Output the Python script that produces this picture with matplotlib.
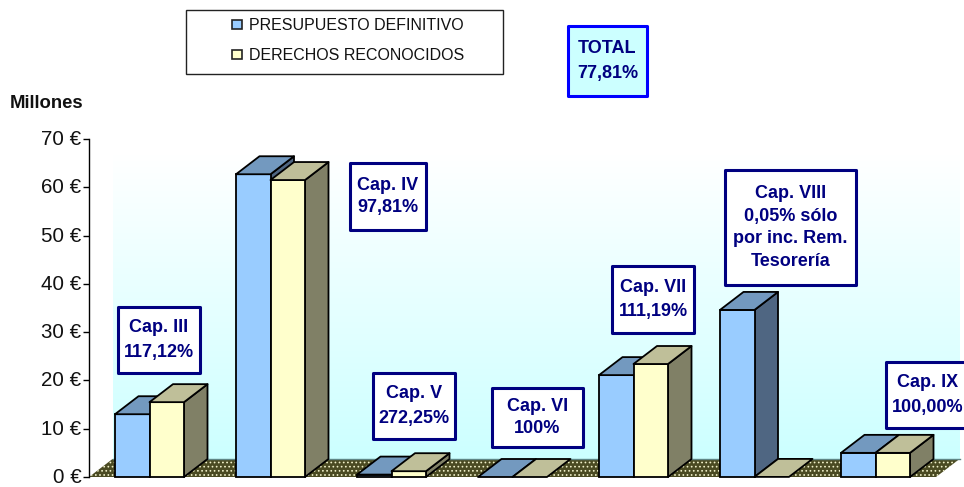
import matplotlib
matplotlib.use('Agg')
import numpy as np
import matplotlib.pyplot as plt
from matplotlib.colors import LinearSegmentedColormap
from matplotlib.patches import Polygon, Rectangle
from matplotlib.transforms import ScaledTranslation

# datos (millones de euros)
capitulos = ['Cap. III', 'Cap. IV', 'Cap. V', 'Cap. VI', 'Cap. VII', 'Cap. VIII', 'Cap. IX']
presupuesto = [13.0, 62.7, 0.5, 0.0, 21.1, 34.6, 5.0]
derechos = [15.5, 61.5, 1.2, 0.0, 23.4, 0.02, 5.0]
yticks = [0, 10, 20, 30, 40, 50, 60, 70]
yticklabels = ['0 €', '10 €', '20 €', '30 €', '40 €', '50 €', '60 €', '70 €']
series_labels = ['PRESUPUESTO DEFINITIVO', 'DERECHOS RECONOCIDOS']

W, H = 964, 487
plt.rcParams['font.family'] = ['Liberation Sans', 'DejaVu Sans']
plt.rcParams['hatch.linewidth'] = 0.7
navy = '#000080'

fig = plt.figure(figsize=(W / 100, H / 100), dpi=100)
ax = fig.add_axes([89 / W, (H - 477) / H, 847 / W, 338 / H])
ax.set_xlim(-0.5, 6.5)
ax.set_ylim(0, 70)

# profundidad del efecto 3D, en unidades de los ejes
dx = 23.5 / 121
dy = 18 / (338 / 70)
bw = 34.5 / 121

# pared del fondo con degradado
cmap = LinearSegmentedColormap.from_list('fondo', [(0, '#FFFFFF'), (0.1, '#FFFFFF'), (1, '#CCFFFF')])
ax.imshow(np.linspace(0, 1, 256).reshape(-1, 1), cmap=cmap, aspect='auto', origin='upper',
          extent=(-0.5 + dx, 6.5 + dx, dy, 70 + dy), clip_on=False, zorder=1)
ax.set_xlim(-0.5, 6.5)
ax.set_ylim(0, 70)

# suelo punteado
suelo = [(-0.5, 0), (6.5, 0), (6.5 + dx, dy), (-0.5 + dx, dy)]
ax.add_patch(Polygon(suelo, closed=True, facecolor='#4A4A22', edgecolor='#F0F0C8', hatch='....',
                     linewidth=0, zorder=2, clip_on=False))
ax.plot([-0.5 + dx, 6.5 + dx], [dy, dy], color='#5F8585', lw=1, zorder=2, clip_on=False)


def barra(x, v, frente, arriba, lado, z):
    pts_top = [(x, v), (x + bw, v), (x + bw + dx, v + dy), (x + dx, v + dy)]
    pts_side = [(x + bw, 0), (x + bw + dx, dy), (x + bw + dx, v + dy), (x + bw, v)]
    kw = dict(closed=True, edgecolor='black', linewidth=1.3, joinstyle='round', zorder=z, clip_on=False)
    if v > 0.1:
        ax.add_patch(Polygon(pts_side, facecolor=lado, **kw))
        ax.add_patch(Rectangle((x, 0), bw, v, facecolor=frente, edgecolor='black', linewidth=1.3,
                               zorder=z, clip_on=False))
    ax.add_patch(Polygon(pts_top, facecolor=arriba, **kw))


for i in range(len(capitulos)):
    barra(i - bw, presupuesto[i], '#99CCFF', '#7399BF', '#4F6682', 3 + i * 0.1)
    barra(i, derechos[i], '#FFFFCC', '#BFBF99', '#808066', 3 + i * 0.1 + 0.05)

ax.set_yticks(yticks)
ax.set_yticklabels(yticklabels, fontsize=14.8, color='#111111')
ax.set_xticks([])
ax.tick_params(axis='y', length=4, width=1, pad=1.5)
# las etiquetas van un poco mas altas que la marca
for lab in ax.get_yticklabels():
    lab.set_transform(lab.get_transform() + ScaledTranslation(0, 1.5 / 100, fig.dpi_scale_trans))
for s in ['top', 'right', 'bottom']:
    ax.spines[s].set_visible(False)
ax.spines['left'].set_linewidth(1)
ax.patch.set_alpha(0)

# capa en pixeles para las cajas de texto y la leyenda
ov = fig.add_axes([0, 0, 1, 1], zorder=5)
ov.set_xlim(0, W)
ov.set_ylim(H, 0)
ov.axis('off')


def caja(x0, y0, x1, y1, txt, fc='white', ec=navy, tc=navy, cx=None, ls=1.45):
    ov.add_patch(Rectangle((x0, y0), x1 - x0, y1 - y0, facecolor=fc, edgecolor=ec, linewidth=2.2,
                           joinstyle='round', clip_on=True))
    if cx is None:
        cx = (x0 + x1) / 2
    ov.text(cx, (y0 + y1) / 2, txt, ha='center', va='center', fontsize=13, fontweight='bold',
            color=tc, linespacing=ls)


caja(568, 26, 647, 96, 'TOTAL\n77,81%', fc='#CCFFFF', ec='#0000FF', ls=1.62)
caja(118, 307, 200, 373, capitulos[0] + '\n117,12%', ls=1.55)
caja(350, 163, 426, 230, capitulos[1] + '\n97,81%')
caja(373, 373, 455, 439, capitulos[2] + '\n272,25%', ls=1.55)
caja(492, 388, 583, 447, capitulos[3] + '\n100%')
caja(612, 266, 694, 333, capitulos[4] + '\n111,19%', ls=1.55)
caja(725, 170, 856, 285, capitulos[5] + '\n0,05% sólo\npor inc. Rem.\nTesorería')
caja(886, 362, 972, 428, capitulos[6] + '\n100,00%', cx=928, ls=1.55)

# leyenda
ov.add_patch(Rectangle((186, 10), 317, 64, facecolor='white', edgecolor='#222222', linewidth=1))
for yy, col, lab in zip([24, 54], ['#99CCFF', '#FFFFCC'], series_labels):
    ov.add_patch(Rectangle((232, yy - 4.5), 9.5, 9.5, facecolor=col, edgecolor='#222222', linewidth=1.2))
    ov.text(249, yy + 1.5, lab, ha='left', va='center', fontsize=11.5, color='#111111')

ov.text(10, 103, 'Millones', ha='left', va='center', fontsize=13.3, fontweight='bold', color='#111111')

fig.savefig('out.png', dpi=100)
